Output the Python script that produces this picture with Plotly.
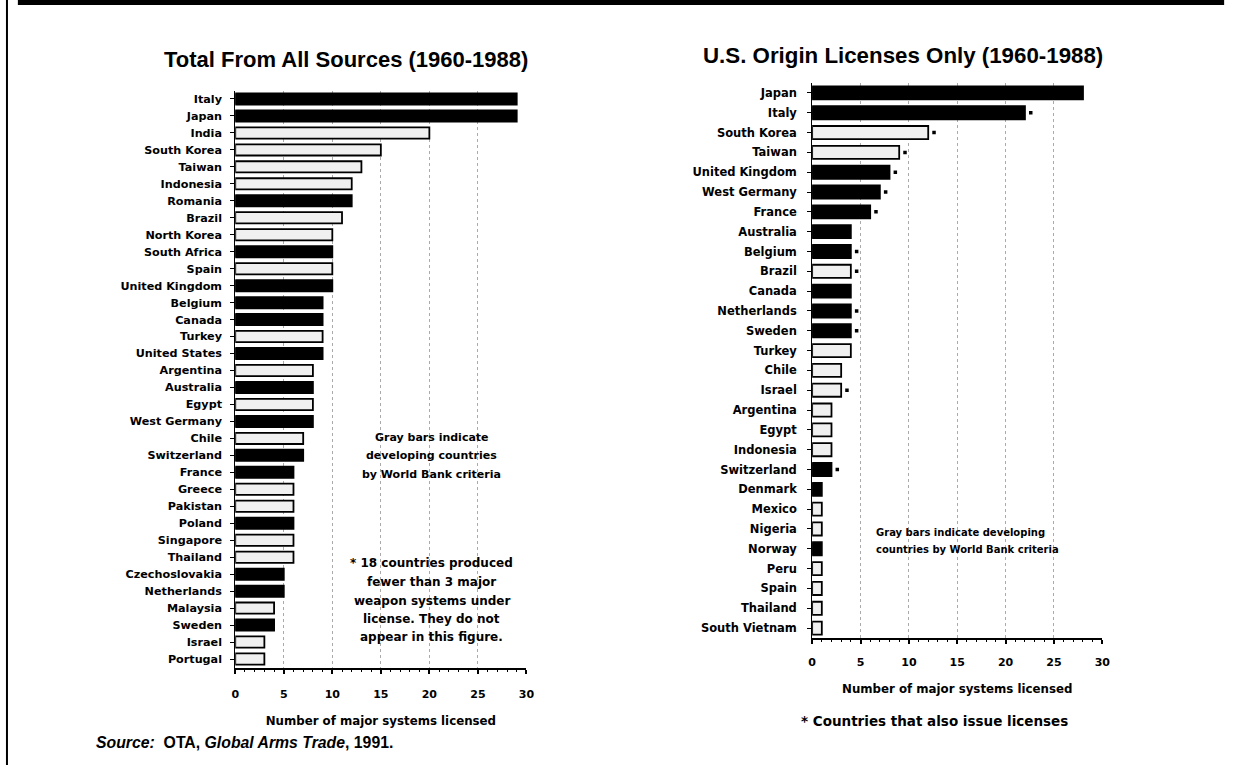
import plotly.graph_objects as go

# ---------------- data ----------------
left_countries = ["Italy", "Japan", "India", "South Korea", "Taiwan", "Indonesia", "Romania", "Brazil",
                  "North Korea", "South Africa", "Spain", "United Kingdom", "Belgium", "Canada", "Turkey",
                  "United States", "Argentina", "Australia", "Egypt", "West Germany", "Chile", "Switzerland",
                  "France", "Greece", "Pakistan", "Poland", "Singapore", "Thailand", "Czechoslovakia",
                  "Netherlands", "Malaysia", "Sweden", "Israel", "Portugal"]
left_values = [29, 29, 20, 15, 13, 12, 12, 11, 10, 10, 10, 10, 9, 9, 9, 9, 8, 8, 8, 8, 7, 7,
               6, 6, 6, 6, 6, 6, 5, 5, 4, 4, 3, 3]
left_developing = [False, False, True, True, True, True, False, True, True, False, True, False,
                   False, False, True, False, True, False, True, False, True, False, False, True,
                   True, False, True, True, False, False, True, False, True, True]

right_countries = ["Japan", "Italy", "South Korea", "Taiwan", "United Kingdom", "West Germany", "France",
                   "Australia", "Belgium", "Brazil", "Canada", "Netherlands", "Sweden", "Turkey", "Chile",
                   "Israel", "Argentina", "Egypt", "Indonesia", "Switzerland", "Denmark", "Mexico",
                   "Nigeria", "Norway", "Peru", "Spain", "Thailand", "South Vietnam"]
right_values = [28, 22, 12, 9, 8, 7, 6, 4, 4, 4, 4, 4, 4, 4, 3, 3, 2, 2, 2, 2, 1, 1, 1, 1, 1, 1, 1, 1]
right_developing = [False, False, True, True, False, False, False, False, False, True, False, False,
                    False, True, True, True, True, True, True, False, False, True, True, False,
                    True, True, True, True]
right_issues = [False, True, True, True, True, True, True, False, True, True, False, True, True,
                False, False, True, False, False, False, True, False, False, False, False,
                False, False, False, False]

x_ticks = [0, 5, 10, 15, 20, 25, 30]

# ---------------- styling ----------------
W, H = 1247, 779
FONT = "DejaVu Sans"
TITLE_FONT = "Liberation Sans"
DEV_FILL = "#f0f0f0"


def px_x(p):
    return p / W


def px_y(p):
    return 1 - p / H


def colors(dev):
    return [DEV_FILL if d else "black" for d in dev]


fig = go.Figure()

fig.add_trace(go.Bar(
    x=left_values, y=left_countries, orientation="h", width=0.66,
    marker=dict(color=colors(left_developing), line=dict(color="black", width=1.8)),
    xaxis="x", yaxis="y", showlegend=False, hoverinfo="x+y"))

fig.add_trace(go.Bar(
    x=right_values, y=right_countries, orientation="h", width=0.66,
    marker=dict(color=colors(right_developing), line=dict(color="black", width=1.8)),
    xaxis="x2", yaxis="y2", showlegend=False, hoverinfo="x+y"))

star_x = [v + 0.6 for v, s in zip(right_values, right_issues) if s]
star_y = [c for c, s in zip(right_countries, right_issues) if s]
fig.add_trace(go.Scatter(
    x=star_x, y=star_y, mode="markers", marker=dict(color="black", size=3.5, symbol="square"),
    xaxis="x2", yaxis="y2", showlegend=False, hoverinfo="skip"))


def xaxis_common(standoff_lbl, title_standoff):
    return dict(
        range=[0, 30], tickvals=x_ticks, showline=True, linecolor="black", linewidth=2,
        ticks="outside", ticklen=4, tickwidth=1.5, tickcolor="black",
        minor=dict(dtick=1, ticks="outside", ticklen=2, tickcolor="black", tickwidth=1, showgrid=False),
        showgrid=True, gridcolor="#aaaaaa", griddash="dot", gridwidth=1,
        zeroline=False, tickfont=dict(family=FONT, size=11, color="black", weight="bold"),
        ticklabelstandoff=standoff_lbl,
        title=dict(text="<b>Number of major systems licensed</b>",
                   font=dict(family=FONT, size=11.8, color="black"), standoff=title_standoff),
        fixedrange=True,
    )


def yaxis_common(size, standoff):
    return dict(
        type="category", showline=True, linecolor="black", linewidth=1,
        ticks="outside", ticklen=4, tickcolor="black", tickwidth=1,
        showgrid=False, zeroline=False, tickfont=dict(family=FONT, size=size, color="black"),
        ticklabelstandoff=standoff, fixedrange=True,
    )


fig.update_layout(
    width=W, height=H, margin=dict(l=0, r=0, t=0, b=0),
    paper_bgcolor="white", plot_bgcolor="white",
    font=dict(family=FONT, color="black"),
    xaxis=dict(domain=[px_x(233.5), px_x(527.5)], anchor="y", **xaxis_common(11, 17)),
    yaxis=dict(domain=[px_y(667.5), px_y(90.5)], anchor="x",
               range=[len(left_countries) - 0.5, -0.5],
               tickvals=left_countries, ticktext=[f"<b>{c}</b>" for c in left_countries],
               **yaxis_common(11.2, 6)),
    xaxis2=dict(domain=[px_x(816), px_x(1109)], anchor="y2", **xaxis_common(9, 17)),
    yaxis2=dict(domain=[px_y(638), px_y(83)], anchor="x2",
                range=[len(right_countries) - 0.5, -0.5],
                tickvals=right_countries, ticktext=[f"<b>{c}</b>" for c in right_countries],
                **yaxis_common(11.5, 8)),
)

ann = []


def add_text(text, x, y, size, xanchor="center", family=FONT):
    ann.append(dict(text=text, x=px_x(x), y=px_y(y), xref="paper", yref="paper",
                    xanchor=xanchor, yanchor="middle", align="left" if xanchor == "left" else "center",
                    showarrow=False, font=dict(family=family, size=size, color="black")))


add_text("<b>Total From All Sources (1960-1988)</b>", 345, 60, 22, family=TITLE_FONT)
add_text("<b>U.S. Origin Licenses Only (1960-1988)</b>", 908, 55, 22.3, family=TITLE_FONT)

gray_note = ["Gray bars indicate", "developing countries", "by World Bank criteria"]
for line, yy in zip(gray_note, [437, 455, 474]):
    add_text(f"<b>{line}</b>", 432, yy, 11)

foot_note = ["* 18 countries produced", "fewer than 3 major", "weapon systems under",
             "license. They do not", "appear in this figure."]
for line, yy in zip(foot_note, [563, 582, 601, 619, 637]):
    add_text(f"<b>{line}</b>", 432, yy, 12)

right_note = ["Gray bars indicate developing", "countries by World Bank criteria"]
for line, yy in zip(right_note, [532, 549]):
    add_text(f"<b>{line}</b>", 878, yy, 10, xanchor="left")

add_text("<b>* Countries that also issue licenses</b>", 803, 721, 13.5, xanchor="left")
add_text("<b><i>Source:</i>  OTA, <i>Global Arms Trade</i>, 1991.</b>", 91, 742, 15.8,
         xanchor="left", family=TITLE_FONT)

fig.update_layout(annotations=ann)

shapes = [
    dict(type="rect", xref="paper", yref="paper", x0=px_x(14), x1=px_x(1232), y0=px_y(5), y1=px_y(0),
         fillcolor="black", line=dict(width=0)),
    dict(type="line", xref="paper", yref="paper", x0=px_x(3), x1=px_x(3), y0=px_y(0), y1=px_y(765),
         line=dict(color="black", width=2)),
]
fig.update_layout(shapes=shapes)

fig.write_html("out.html", config={"displayModeBar": False},
               post_script="document.body.style.margin='0';")
